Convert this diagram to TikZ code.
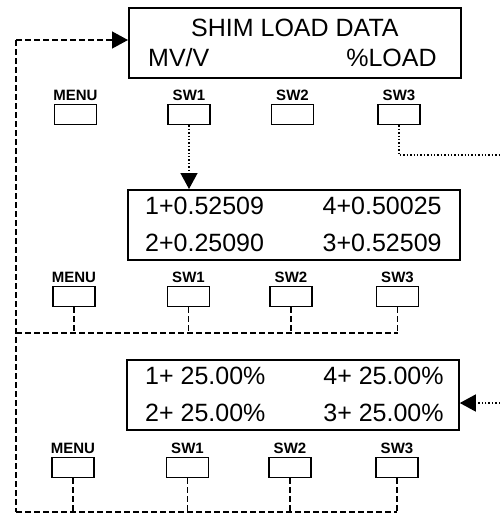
\documentclass[tikz,border=0pt]{standalone}
\usepackage{fontspec}
\setmainfont{Liberation Sans}
\usetikzlibrary{arrows.meta,positioning,calc}

\begin{document}
\begin{tikzpicture}[x=1pt,y=-1pt,
display/.style={draw,line width=1.8pt,minimum width=332pt,minimum height=70pt,anchor=north west,inner sep=0pt},
lcd/.style={font=\fontsize{25}{25}\selectfont,inner sep=0pt},
keylbl/.style={font=\fontsize{15}{15}\selectfont\bfseries,inner sep=0pt,label distance=3pt},
key/.style={draw,line width=1.3pt,minimum width=42pt,minimum height=20pt,anchor=north,inner sep=0pt,label={[keylbl]above:#1}},
arr/.style={-{Triangle[length=16pt,width=17pt]}},
dotline/.style={line width=1.4pt,dash pattern=on 1.4pt off 2pt},
dashline/.style={line width=1.3pt,dash pattern=on 6pt off 3pt}
]
\useasboundingbox (0,0) rectangle (500,515);

% displays
\node[display] (shim) at (128,7) {};
\node[lcd,anchor=base] (shimtitle) at ([yshift=-29pt]shim.north) {SHIM LOAD DATA};
\node[lcd,anchor=base west] (mvv) at ([xshift=20pt,yshift=-59pt]shim.north west) {MV/V};
\node[lcd,anchor=base east] (pload) at ([xshift=-25pt,yshift=-59pt]shim.north east) {\%LOAD};

\node[display] (mvdisp) at (127,189) {};
\node[lcd,anchor=base west] (mv1) at ([xshift=18pt,yshift=-25pt]mvdisp.north west) {1+0.52509};
\node[lcd,anchor=base west] (mv2) at ([xshift=18pt,yshift=-62pt]mvdisp.north west) {2+0.25090};
\node[lcd,anchor=base east] (mv4) at ([xshift=-19pt,yshift=-25pt]mvdisp.north east) {4+0.50025};
\node[lcd,anchor=base east] (mv3) at ([xshift=-19pt,yshift=-62pt]mvdisp.north east) {3+0.52509};

\node[display] (pcdisp) at (126,359) {};
\node[lcd,anchor=base west] (pc1) at ([xshift=19pt,yshift=-25pt]pcdisp.north west) {1+ 25.00\%};
\node[lcd,anchor=base west] (pc2) at ([xshift=19pt,yshift=-62pt]pcdisp.north west) {2+ 25.00\%};
\node[lcd,anchor=base east] (pc4) at ([xshift=-16pt,yshift=-25pt]pcdisp.north east) {4+ 25.00\%};
\node[lcd,anchor=base east] (pc3) at ([xshift=-16pt,yshift=-62pt]pcdisp.north east) {3+ 25.00\%};

% keys
\node[key=MENU] (menua) at (75.5,104) {};
\node[key=SW1] (swonea) at (189,104) {};
\node[key=SW2] (swtwoa) at (292.5,104) {};
\node[key=SW3] (swthreea) at (399,104) {};

\node[key=MENU] (menub) at (74,286) {};
\node[key=SW1] (swoneb) at (188.5,286) {};
\node[key=SW2] (swtwob) at (291,286) {};
\node[key=SW3] (swthreeb) at (397.5,286) {};

\node[key=MENU] (menuc) at (73,457) {};
\node[key=SW1] (swonec) at (187.5,457) {};
\node[key=SW2] (swtwoc) at (290,457) {};
\node[key=SW3] (swthreec) at (397,457) {};

% connectors
\coordinate (back) at (16,40);
\coordinate (busb) at (16,333);
\coordinate (busc) at (16,512);
\coordinate (outr) at (500,155);
\coordinate (inr) at (500,403);

\draw[dotline,arr] (swonea.south) -- (swonea.south |- mvdisp.north);
\draw[dotline] (swthreea.south) |- (outr);
\draw[dotline,arr] (inr) -- (inr -| pcdisp.east);

\draw[dashline,arr] (back) -- (back -| shim.west);
\draw[dashline] (back) -- (busc);

\draw[dashline] (menub.south) -- (menub.south |- busb);
\draw[dashline] (swoneb.south) -- (swoneb.south |- busb);
\draw[dashline] (swtwob.south) -- (swtwob.south |- busb);
\draw[dashline] (swthreeb.south) -- (swthreeb.south |- busb);
\draw[dashline] (busb) -- (swthreeb.south |- busb);

\draw[dashline] (menuc.south) -- (menuc.south |- busc);
\draw[dashline] (swonec.south) -- (swonec.south |- busc);
\draw[dashline] (swtwoc.south) -- (swtwoc.south |- busc);
\draw[dashline] (swthreec.south) -- (swthreec.south |- busc);
\draw[dashline] (busc) -- (swthreec.south |- busc);
\end{tikzpicture}
\end{document}
